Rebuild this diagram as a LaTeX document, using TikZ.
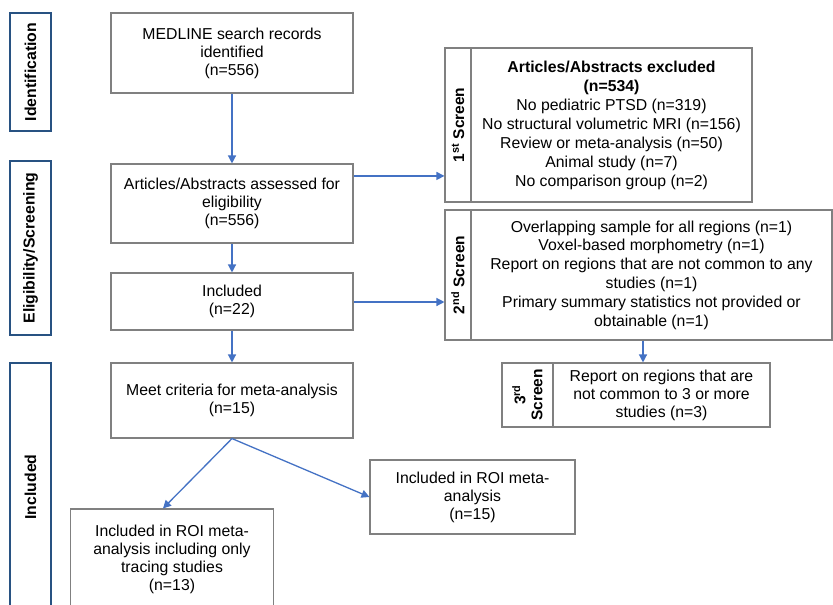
\documentclass[tikz,border=0pt]{standalone}
\usepackage{fontspec}
\setmainfont{Liberation Sans}
\usetikzlibrary{arrows.meta,calc}
\definecolor{boxgray}{RGB}{128,128,128}
\definecolor{arrblue}{RGB}{68,114,196}
\definecolor{phaseblue}{RGB}{40,82,130}
\begin{document}
\begin{tikzpicture}[x=1pt,y=1pt,
 box/.style={draw=boxgray,line width=1.1pt,fill=white,inner sep=0pt,align=center,font=\fontsize{15.8}{18}\selectfont},
 scrlab/.style={draw=boxgray,line width=1.1pt,fill=white,inner sep=0pt,align=center,rotate=90,font=\bfseries\fontsize{15.5}{17}\selectfont},
 phase/.style={draw=phaseblue,line width=2.6pt,inner sep=0pt,rotate=90,font=\bfseries\fontsize{15.8}{18}\selectfont},
 arr/.style={draw=arrblue,line width=1.3pt,-{Triangle[length=8pt,width=8pt]}},
]
\useasboundingbox (0,0) rectangle (833,-605);

% phase boxes
\node[phase,minimum width=118,minimum height=41] (ph1) at (30.5,-72) {Identification};
\node[phase,minimum width=174,minimum height=41] (ph2) at (30.5,-248) {Eligibility/Screening};
\node[phase,minimum width=248,minimum height=41] (ph3) at (30.5,-487) {Included};

% main column
\node[box,minimum width=242,minimum height=80] (med) at (232,-53) {MEDLINE search records\\identified\\(n=556)};
\node[box,minimum width=242,minimum height=79] (art) at (232,-203.5) {Articles/Abstracts assessed for\\eligibility\\(n=556)};
\node[box,minimum width=242,minimum height=57] (inc) at (232,-301.5) {Included\\(n=22)};
\node[box,minimum width=242,minimum height=75] (meet) at (232,-400.5) {Meet criteria for meta-analysis\\(n=15)};
\node[box,minimum width=205,minimum height=74] (roi) at (472.5,-497) {Included in ROI meta-\\analysis\\(n=15)};
\node[box,minimum width=203,minimum height=100] (trace) at (172,-559) {Included in ROI meta-\\analysis including only\\tracing studies\\(n=13)};

% 1st screen
\node[scrlab,minimum width=154,minimum height=26] (s1lab) at (458,-125) {1\textsuperscript{st} Screen};
\node[box,minimum width=281,minimum height=154,font=\fontsize{15.8}{19}\selectfont] (s1) at (611.5,-125) {{\bfseries Articles/Abstracts excluded}\\{\bfseries (n=534)}\\No pediatric PTSD (n=319)\\No structural volumetric MRI (n=156)\\Review or meta-analysis (n=50)\\Animal study (n=7)\\No comparison group (n=2)};

% 2nd screen
\node[scrlab,minimum width=130,minimum height=26] (s2lab) at (458,-275) {2\textsuperscript{nd} Screen};
\node[box,minimum width=361,minimum height=130,font=\fontsize{15.8}{18.8}\selectfont] (s2) at (651.5,-275) {Overlapping sample for all regions (n=1)\\Voxel-based morphometry (n=1)\\Report on regions that are not common to any\\studies (n=1)\\Primary summary statistics not provided or\\obtainable (n=1)};

% 3rd screen
\node[scrlab,minimum width=64,minimum height=51] (s3lab) at (527.5,-395) {3\textsuperscript{rd}\\Screen};
\node[box,minimum width=217,minimum height=64] (s3) at (661.5,-395) {Report on regions that are\\not common to 3 or more\\studies (n=3)};

% connectors
\draw[arr] (med.south) -- (art.north);
\draw[arr] (art.south) -- (inc.north);
\draw[arr] (inc.south) -- (meet.north);
\coordinate (a1) at ([yshift=-12.5pt]art.north east);
\draw[arr] (a1) -- (a1 -| s1lab.north);
\coordinate (a2) at ([yshift=-0.5pt]inc.east);
\draw[arr] (a2) -- (a2 -| s2lab.north);
\coordinate (c3) at (643,0);
\draw[arr] (c3 |- s2.south) -- (c3 |- s3.north);
\draw[arr] (meet.south) -- ([xshift=-9pt]trace.north);
\draw[arr] (meet.south) -- (roi.west);
\end{tikzpicture}
\end{document}
